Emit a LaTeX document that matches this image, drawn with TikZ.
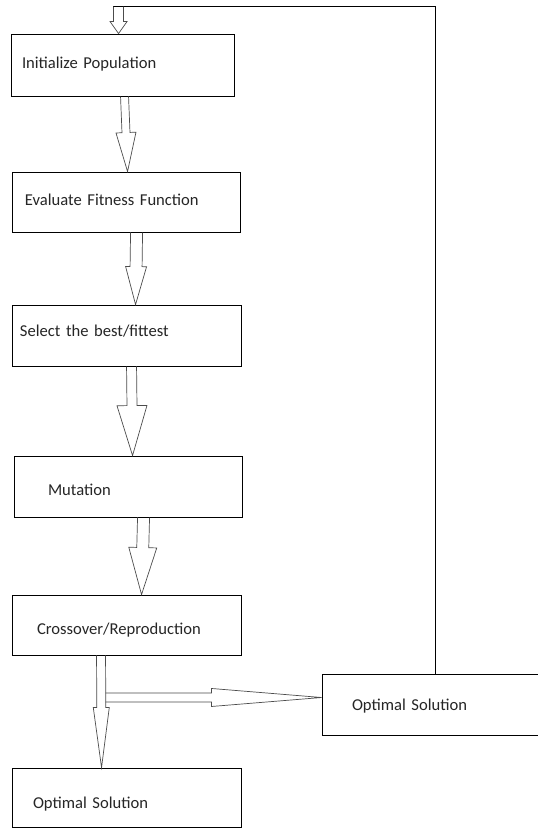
\documentclass[tikz,border=0pt]{standalone}
\usepackage{fontspec}
\setmainfont{Carlito}
\usetikzlibrary{calc}

% hollow block arrow: tail, tip, shaft half width, head half width, head length
\newcommand{\blockarrow}[5]{%
  \coordinate (hb) at ($(#2)!#5!(#1)$);
  \draw[blockline] ($(#1)!#3!90:(#2)$) -- ($(hb)!#3!90:(#2)$) -- ($(hb)!#4!90:(#2)$) -- (#2)
    -- ($(hb)!#4!-90:(#2)$) -- ($(hb)!#3!-90:(#2)$) -- ($(#1)!#3!-90:(#2)$);}

\begin{document}
\begin{tikzpicture}[x=1pt,y=-1pt,
  every node/.style={font=\fontsize{16.6}{20}\selectfont,text=black!85},
  stepbox/.style={draw,line width=0.9pt,inner xsep=0pt,align=left,text width=#1,text height=11pt,text depth=4pt},
  blockline/.style={draw=black!70,line width=0.7pt,line join=miter}]
\path[use as bounding box,fill=white] (0,0) rectangle (538,828);
\node[stepbox=223pt,minimum height=62pt] (init) at (122.5,65) {\hspace*{11pt}Initialize Population};
\node[stepbox=228pt,minimum height=60pt] (fitness) at (126,202) {\hspace*{13pt}Evaluate Fitness Function};
\node[stepbox=229pt,minimum height=61pt,text height=6pt] (select) at (126.5,335.5) {\hspace*{8pt}Select the best/fittest};
\node[stepbox=228pt,minimum height=61pt,text height=22pt] (mutate) at (128,486.5) {\hspace*{34pt}Mutation};
\node[stepbox=229pt,minimum height=60pt,text height=23pt] (cross) at (126.5,625) {\hspace*{25pt}Crossover/Reproduction};
\node[stepbox=229pt,minimum height=59pt,text height=26pt] (opt) at (126.5,797.5) {\hspace*{21pt}Optimal Solution};
\node[stepbox=226pt,minimum height=61pt,text height=16pt] (optside) at (435,704.5) {\hspace*{30pt}Optimal Solution};

\blockarrow{$(init.south west)+(114,0)$}{$(fitness.north west)+(116,0)$}{4pt}{10pt}{39pt}
\blockarrow{$(fitness.south west)+(125,0)$}{$(select.north west)+(124,0)$}{6pt}{10.5pt}{38pt}
\blockarrow{$(select.south west)+(120,0)$}{$(mutate.north west)+(119,0)$}{5pt}{15pt}{50pt}
\blockarrow{$(mutate.south west)+(130,0)$}{$(cross.north west)+(130,0)$}{6pt}{14pt}{47pt}
\blockarrow{$(cross.south west)+(89.5,0)$}{$(opt.north west)+(90,0)$}{4.5pt}{8pt}{60pt}
\coordinate (split) at ($(cross.south west)+(94,42)$);
\blockarrow{split}{$(optside.west)+(0,-7)$}{4.5pt}{9pt}{110pt}

% back to the start
\coordinate (fbtop) at ($(init.north west)+(108,-27)$);
\draw[line width=0.9pt] (optside.north) |- ($(fbtop)+(-6,0)$);
\blockarrow{fbtop}{$(init.north west)+(108,0)$}{5pt}{8.5pt}{12pt}
\end{tikzpicture}
\end{document}
